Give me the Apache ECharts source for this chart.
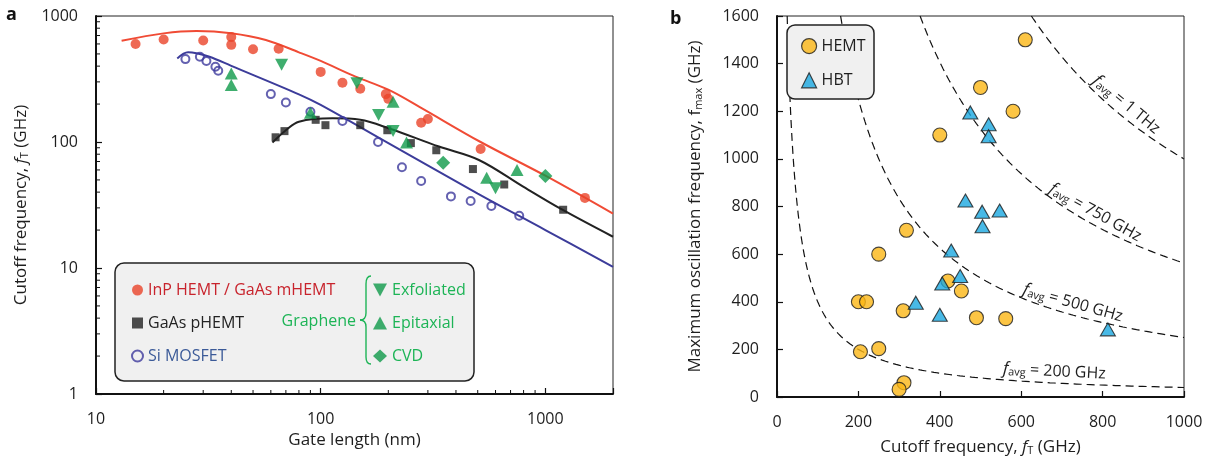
<!DOCTYPE html>
<html>
<head>
<meta charset="utf-8">
<script src="https://cdn.jsdelivr.net/npm/echarts@6/dist/echarts.min.js"></script>
<style>
  html, body { margin: 0; padding: 0; background: #fff; }
  #chart { width: 1210px; height: 461px; }
</style>
</head>
<body>
<div id="chart"></div>
<script>
// ---- Panel a: cutoff frequency vs gate length (log-log) ----
const lengthTickLabels = [10, 100, 1000];
const ftTickLabels = [1, 10, 100, 1000];
const lengthMinorTicks = [20, 30, 40, 50, 60, 70, 80, 90, 200, 300, 400, 500, 600, 700, 800, 900];
const ftMinorTicks = [2, 3, 4, 5, 6, 7, 8, 9, 20, 30, 40, 50, 60, 70, 80, 90, 200, 300, 400, 500, 600, 700, 800, 900];

const inpHemt = [[15, 600], [20, 650], [30, 640], [40, 680], [40, 590], [50, 545], [65, 550], [100, 360],
  [125, 295], [150, 265], [195, 240], [200, 220], [280, 142], [300, 152], [515, 88], [1500, 36]];
const gaasPhemt = [[63, 109], [69, 122], [95, 150], [105, 136], [150, 136], [198, 124], [252, 98],
  [327, 86], [476, 61], [656, 46], [1200, 29]];
const siMosfet = [[25, 455], [29, 475], [31, 440], [34, 395], [35, 368], [60, 240], [70, 206], [90, 174],
  [125, 147], [180, 100], [230, 63], [280, 49], [380, 37], [465, 34], [575, 31], [765, 26]];
const grExfoliated = [[67, 410], [145, 292], [181, 164], [210, 122], [600, 43]];
const grEpitaxial = [[40, 350], [40, 283], [90, 171], [210, 209], [241, 99], [548, 52], [748, 60]];
const grCvd = [[351, 68.5], [1000, 53.7]];

// trend lines
const inpTrend = [[13, 635], [20, 728], [28, 760], [40, 730], [57, 645], [80, 515], [100, 440], [143, 330],
  [200, 260], [275, 190], [515, 100], [1000, 54], [2000, 27]];
const phemtTrend = [[61, 99], [70, 124], [80, 145], [113, 154], [150, 150], [202, 128], [336, 92],
  [506, 72], [800, 44], [1190, 29], [2000, 17.7]];
const mosfetTrend = [[23, 460], [25.7, 515], [28, 506], [32, 475], [40, 402], [80, 239], [100, 197],
  [200, 98], [500, 39], [1000, 20], [2000, 10.2]];

// ---- Panel b: fmax vs fT ----
const hemtPoints = [[200, 400], [220, 400], [205, 190], [250, 203], [250, 600], [318, 700], [310, 362],
  [312, 60], [300, 32], [400, 1100], [420, 487], [453, 445], [490, 333], [500, 1300], [562, 329],
  [580, 1200], [610, 1500]];
const hbtPoints = [[341, 396], [400, 345], [406, 477], [428, 615], [450, 508], [463, 825], [475, 1195],
  [504, 778], [505, 717], [520, 1145], [520, 1095], [547, 783], [813, 284]];
const favgLevels = [200, 500, 750, 1000];        // GHz, geometric mean of fT and fmax
const favgLabelAt = [680, 719, 768, 840];         // fT where each level is labelled

const FONT = "'Open Sans', 'Noto Sans', sans-serif";
const INK = '#1e1e1e';
const GREEN = '#0f9a4a';
const GREEN_TEXT = '#1db456';
const DOWN_TRIANGLE = 'path://M0,0 L12,0 L6,11 Z';
const TICK_FS = 16;
const NAME_FS = 17;

// fT * fmax = favg^2 contour, from the top of the frame to fT = 1000 GHz
function contour(favg) {
  const c = favg * favg;
  const start = c / 1600;
  const pts = [];
  const n = 240;
  for (let i = 0; i <= n; i++) {
    const ft = start * Math.pow(1000 / start, i / n);
    pts.push([ft, c / ft]);
  }
  return pts;
}
function favgText(v) {
  return v >= 1000 ? (v / 1000) + ' THz' : v + ' GHz';
}

const subRich = {
  n: { fontSize: NAME_FS, color: INK, fontFamily: FONT },
  i: { fontSize: NAME_FS, color: INK, fontStyle: 'italic', fontFamily: FONT },
  sub: { fontSize: 11, color: INK, verticalAlign: 'bottom', fontFamily: FONT }
};

function minorTickSeries(values, horizontal) {
  return {
    type: 'custom', xAxisIndex: 0, yAxisIndex: 0, silent: true, clip: false, z: 6,
    data: values.map(v => horizontal ? [v, 1] : [10, v]),
    renderItem: (params, api) => {
      const c = api.coord([api.value(0), api.value(1)]);
      const shape = horizontal
        ? { x1: c[0], y1: c[1], x2: c[0], y2: c[1] - 4 }
        : { x1: c[0], y1: c[1], x2: c[0] + 4, y2: c[1] };
      return { type: 'line', shape, style: { stroke: '#111', lineWidth: 1 } };
    }
  };
}

const logLabel = list => v => (list.indexOf(Math.round(v)) >= 0 ? String(Math.round(v)) : '');
const plainLabel = v => String(v);

const chart = echarts.init(document.getElementById('chart'), null, { renderer: 'canvas' });

const option = {
  animation: false,
  backgroundColor: '#fff',
  textStyle: { fontFamily: FONT },
  grid: [
    { left: 96, top: 16, width: 517, height: 378, show: true, borderColor: '#222', borderWidth: 1, backgroundColor: 'transparent' },
    { left: 777, top: 16, width: 407, height: 382, show: true, borderColor: '#222', borderWidth: 1, backgroundColor: 'transparent' }
  ],
  xAxis: [
    {
      gridIndex: 0, type: 'log', logBase: 10, min: 10, max: 2000,
      name: 'Gate length (nm)', nameLocation: 'middle', nameGap: 34,
      nameTextStyle: { fontSize: NAME_FS, color: INK },
      axisLine: { lineStyle: { color: '#111', width: 2 } },
      axisTick: { inside: true, length: 6, lineStyle: { color: '#111', width: 1.2 } },
      axisLabel: { margin: 17, fontSize: TICK_FS, color: INK, formatter: logLabel(lengthTickLabels) },
      splitLine: { show: false }
    },
    {
      gridIndex: 1, type: 'value', min: 0, max: 1000, interval: 200,
      name: '{n|Cutoff frequency, }{i|f}{sub|T}{n| (GHz)}', nameLocation: 'middle', nameGap: 42,
      nameTextStyle: { rich: subRich },
      axisLine: { onZero: false, lineStyle: { color: '#111', width: 2 } },
      axisTick: { inside: true, length: 6, lineStyle: { color: '#111', width: 1.2 } },
      axisLabel: { margin: 17, fontSize: TICK_FS, color: INK, formatter: plainLabel },
      splitLine: { show: false }
    }
  ],
  yAxis: [
    {
      gridIndex: 0, type: 'log', logBase: 10, min: 1, max: 1000,
      name: 'Cutoff frequency, {i|f}{sub|T} (GHz)', nameLocation: 'middle', nameGap: 66,
      nameTextStyle: { fontSize: NAME_FS, color: INK, rich: subRich },
      axisLine: { lineStyle: { color: '#111', width: 2 } },
      axisTick: { inside: true, length: 6, lineStyle: { color: '#111', width: 1.2 } },
      axisLabel: { margin: 18, fontSize: TICK_FS, color: INK, formatter: logLabel(ftTickLabels) },
      splitLine: { show: false }
    },
    {
      gridIndex: 1, type: 'value', min: 0, max: 1600, interval: 200,
      name: '{n|Maximum oscillation frequency, f}{sub|max}{n| (GHz)}', nameLocation: 'middle', nameGap: 73,
      nameTextStyle: { rich: subRich },
      axisLine: { onZero: false, lineStyle: { color: '#111', width: 2 } },
      axisTick: { inside: true, length: 6, lineStyle: { color: '#111', width: 1.2 } },
      axisLabel: { margin: 18, fontSize: TICK_FS, color: INK, formatter: plainLabel },
      splitLine: { show: false }
    }
  ],
  legend: [
    {
      orient: 'vertical', left: 126, top: 277, itemWidth: 11, itemHeight: 11, itemGap: 17,
      textStyle: { fontSize: 16, fontFamily: FONT },
      data: [
        { name: 'InP HEMT / GaAs mHEMT', textStyle: { color: '#c8232c' } },
        { name: 'GaAs pHEMT', textStyle: { color: '#222' } },
        { name: 'Si MOSFET', textStyle: { color: '#3b5a98' } }
      ]
    },
    {
      orient: 'vertical', left: 368, top: 277, itemWidth: 14, itemHeight: 13, itemGap: 17,
      textStyle: { fontSize: 16, fontFamily: FONT, color: GREEN_TEXT },
      data: ['Exfoliated', 'Epitaxial', 'CVD']
    },
    {
      orient: 'vertical', left: 796, top: 33, itemWidth: 15, itemHeight: 15, itemGap: 18,
      textStyle: { fontSize: 16, fontFamily: FONT, color: INK },
      itemStyle: { borderWidth: 1.2 },
      data: ['HEMT', 'HBT']
    }
  ],
  series: [
    // trend lines
    { type: 'line', xAxisIndex: 0, yAxisIndex: 0, data: inpTrend, smooth: 0.35, showSymbol: false, silent: true,
      lineStyle: { color: '#f04b35', width: 2 }, z: 2 },
    { type: 'line', xAxisIndex: 0, yAxisIndex: 0, data: phemtTrend, smooth: 0.35, showSymbol: false, silent: true,
      lineStyle: { color: '#222', width: 2 }, z: 2 },
    { type: 'line', xAxisIndex: 0, yAxisIndex: 0, data: mosfetTrend, smooth: 0.35, showSymbol: false, silent: true,
      lineStyle: { color: '#3c3c9a', width: 2 }, z: 2 },
    // measured devices
    { name: 'InP HEMT / GaAs mHEMT', type: 'scatter', xAxisIndex: 0, yAxisIndex: 0, data: inpHemt,
      symbol: 'circle', symbolSize: 10, itemStyle: { color: '#ea4429' }, z: 3 },
    { name: 'GaAs pHEMT', type: 'scatter', xAxisIndex: 0, yAxisIndex: 0, data: gaasPhemt,
      symbol: 'rect', symbolSize: 8, itemStyle: { color: '#222' }, z: 3 },
    { name: 'Si MOSFET', type: 'scatter', xAxisIndex: 0, yAxisIndex: 0, data: siMosfet,
      symbol: 'circle', symbolSize: 8, itemStyle: { color: 'rgba(255,255,255,0)', borderColor: '#3d3a9c', borderWidth: 2 }, z: 3 },
    { name: 'Exfoliated', type: 'scatter', xAxisIndex: 0, yAxisIndex: 0, data: grExfoliated,
      symbol: DOWN_TRIANGLE, symbolSize: [13, 12], itemStyle: { color: GREEN }, z: 3 },
    { name: 'Epitaxial', type: 'scatter', xAxisIndex: 0, yAxisIndex: 0, data: grEpitaxial,
      symbol: 'triangle', symbolSize: [13, 12], itemStyle: { color: GREEN }, z: 3 },
    { name: 'CVD', type: 'scatter', xAxisIndex: 0, yAxisIndex: 0, data: grCvd,
      symbol: 'diamond', symbolSize: 14, itemStyle: { color: GREEN }, z: 3 },
    minorTickSeries(lengthMinorTicks, true),
    minorTickSeries(ftMinorTicks, false),
    // panel b contours
    ...favgLevels.map(f => ({
      type: 'line', xAxisIndex: 1, yAxisIndex: 1, data: contour(f), showSymbol: false, silent: true,
      lineStyle: { color: '#111', width: 1.2, type: [8, 5] }, z: 1
    })),
    { name: 'HEMT', type: 'scatter', xAxisIndex: 1, yAxisIndex: 1, data: hemtPoints,
      symbol: 'circle', symbolSize: 14, itemStyle: { color: '#fbb615', borderColor: '#1a1a1a', borderWidth: 1.1 }, z: 3 },
    { name: 'HBT', type: 'scatter', xAxisIndex: 1, yAxisIndex: 1, data: hbtPoints,
      symbol: 'triangle', symbolSize: [15, 13], itemStyle: { color: '#1aa7e0', borderColor: '#1a1a1a', borderWidth: 1.1 }, z: 3 }
  ]
};

chart.setOption(option);

// decorations: panel letters, legend frames, graphene bracket, contour labels
const bracketStyle = { fill: 'none', stroke: GREEN_TEXT, lineWidth: 1.4 };
const graphics = [
  { type: 'text', x: 6, y: 6, style: { text: 'a', fontSize: 18, fontWeight: 'bold', fill: '#111', fontFamily: FONT } },
  { type: 'text', x: 670, y: 10, style: { text: 'b', fontSize: 18, fontWeight: 'bold', fill: '#111', fontFamily: FONT } },
  { type: 'rect', z: 3, shape: { x: 115, y: 263, width: 359, height: 118, r: 9 },
    style: { fill: '#f0f0f0', stroke: '#222', lineWidth: 1.5 } },
  { type: 'rect', z: 3, shape: { x: 787, y: 25, width: 87, height: 74, r: 8 },
    style: { fill: '#f0f0f0', stroke: '#222', lineWidth: 1.5 } },
  { type: 'text', z: 5, x: 356, y: 321, style: { text: 'Graphene', fontSize: 16, fill: GREEN_TEXT, fontFamily: FONT,
    align: 'right', verticalAlign: 'middle' } },
  { type: 'bezierCurve', z: 5, shape: { x1: 371, y1: 276, x2: 366, y2: 284, cpx1: 366, cpy1: 276 }, style: bracketStyle },
  { type: 'line', z: 5, shape: { x1: 366, y1: 284, x2: 366, y2: 313 }, style: bracketStyle },
  { type: 'bezierCurve', z: 5, shape: { x1: 366, y1: 313, x2: 360, y2: 320, cpx1: 366, cpy1: 320 }, style: bracketStyle },
  { type: 'bezierCurve', z: 5, shape: { x1: 360, y1: 320, x2: 366, y2: 327, cpx1: 366, cpy1: 320 }, style: bracketStyle },
  { type: 'line', z: 5, shape: { x1: 366, y1: 327, x2: 366, y2: 357 }, style: bracketStyle },
  { type: 'bezierCurve', z: 5, shape: { x1: 366, y1: 357, x2: 371, y2: 364, cpx1: 366, cpy1: 364 }, style: bracketStyle }
];

favgLevels.forEach((f, k) => {
  const ft = favgLabelAt[k];
  const c = f * f;
  const p0 = chart.convertToPixel({ gridIndex: 1 }, [ft, c / ft]);
  const pa = chart.convertToPixel({ gridIndex: 1 }, [ft - 5, c / (ft - 5)]);
  const pb = chart.convertToPixel({ gridIndex: 1 }, [ft + 5, c / (ft + 5)]);
  const ang = Math.atan2(pb[1] - pa[1], pb[0] - pa[0]);
  graphics.push({
    type: 'text', z: 5, x: p0[0], y: p0[1], rotation: -ang,
    style: {
      text: '{i|f}{sub|avg}{n| = ' + favgText(f) + '}',
      rich: {
        n: { fontSize: 16, fill: INK, fontFamily: FONT },
        i: { fontSize: 17, fill: INK, fontStyle: 'italic', fontFamily: FONT },
        sub: { fontSize: 11, fill: INK, verticalAlign: 'bottom', fontFamily: FONT }
      },
      align: 'center', verticalAlign: 'bottom', y: -3
    }
  });
});

chart.setOption({ graphic: graphics });
</script>
</body>
</html>
